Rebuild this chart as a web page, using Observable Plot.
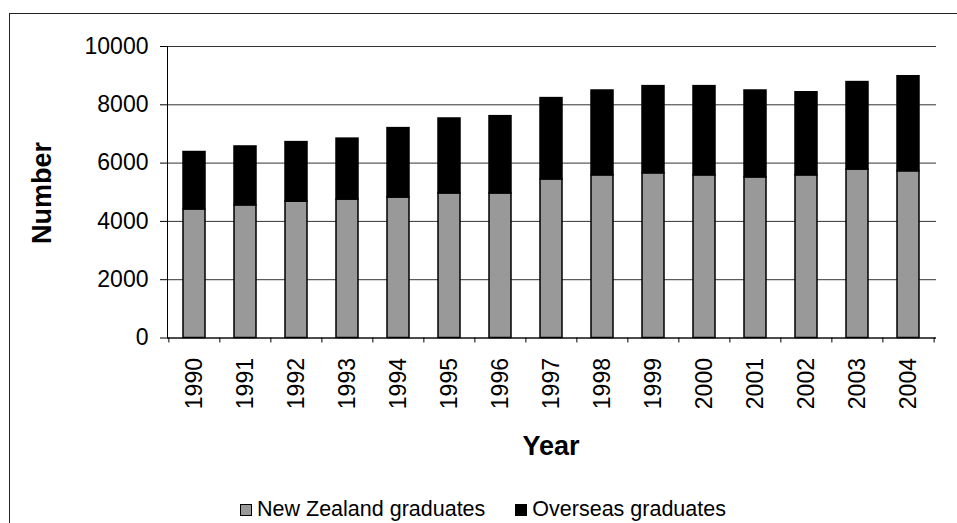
<!DOCTYPE html>
<html><head><meta charset="utf-8">
<script src="https://cdn.jsdelivr.net/npm/d3@7"></script>
<script src="https://cdn.jsdelivr.net/npm/@observablehq/plot@0.6"></script>
<style>
body{margin:0;background:#fff;font-family:"Liberation Sans",Arial,sans-serif;color:#000;}
#wrap{position:relative;width:957px;height:523px;overflow:hidden;background:#fff;}
#box{position:absolute;left:9px;top:13px;width:980px;height:540px;border:1.5px solid #222;box-sizing:border-box;}
#chart{position:absolute;left:0;top:0;}
#ylab{position:absolute;left:42px;top:193px;transform:translate(-50%,-50%) rotate(-90deg);font-weight:bold;font-size:27px;white-space:nowrap;}
#xlab{position:absolute;left:551px;top:446px;transform:translate(-50%,-50%);font-weight:bold;font-size:27px;}
#legend{position:absolute;top:497px;left:9px;width:948px;display:flex;justify-content:center;align-items:center;font-size:21.5px;}
.item{display:flex;align-items:center;margin:0 15px;}
.sw{width:10px;height:10px;border:1px solid #000;margin-right:5px;}
</style></head>
<body>
<div id="wrap">
  <div id="box"></div>
  <div id="chart"></div>
  <div id="ylab">Number</div>
  <div id="xlab">Year</div>
  <div id="legend"></div>
</div>
<script>
const years = ["1990","1991","1992","1993","1994","1995","1996","1997","1998","1999","2000","2001","2002","2003","2004"];
const seriesNames = ["New Zealand graduates", "Overseas graduates"];
const seriesColors = ["#999999", "#000000"];
const nzGraduates = [4410, 4550, 4680, 4750, 4820, 4960, 4960, 5440, 5580, 5650, 5580, 5510, 5580, 5780, 5720];
const overseasGraduates = [1970, 2020, 2040, 2090, 2380, 2570, 2650, 2790, 2910, 2990, 3060, 2980, 2850, 3000, 3260];
const yTicks = [0, 2000, 4000, 6000, 8000, 10000];

const rows = [];
years.forEach((y, i) => {
  rows.push({year: y, series: seriesNames[0], value: nzGraduates[i]});
  rows.push({year: y, series: seriesNames[1], value: overseasGraduates[i]});
});

const W = 957, mL = 167, mR = 21;
const step = (W - mL - mR) / years.length;
const fmt = d3.format("d");

const chart = Plot.plot({
  width: W,
  height: 470,
  marginLeft: mL,
  marginRight: mR,
  marginTop: 46,
  marginBottom: 132.5,
  style: {fontFamily: "'Liberation Sans', Arial, sans-serif", color: "#000", background: "transparent"},
  x: {type: "band", domain: years, paddingInner: 0.565, paddingOuter: 0.2825},
  y: {domain: [0, 10000]},
  color: {domain: seriesNames, range: seriesColors},
  marks: [
    Plot.gridY(yTicks, {stroke: "#000", strokeOpacity: 0.8, strokeWidth: 1}),
    Plot.barY(rows, Plot.stackY({order: seriesNames}, {x: "year", y: "value", z: "series", fill: "series", stroke: "#000", strokeWidth: 1.5})),
    Plot.ruleY([0], {stroke: "#000", strokeWidth: 1}),
    Plot.frame({anchor: "left", stroke: "#000", strokeWidth: 1}),
    Plot.axisY({ticks: yTicks, tickFormat: fmt, tickSize: 7, tickPadding: 12, fontSize: 23, label: null, stroke: "#000"}),
    Plot.axisX({tickSize: 0, tickRotate: -90, tickPadding: 20, fontSize: 23, label: null}),
    Plot.axisX({tickFormat: () => "", tickSize: 5, dx: -step / 2, label: null, stroke: "#000"}),
    Plot.axisX({ticks: [years[years.length - 1]], tickFormat: () => "", tickSize: 5, dx: step / 2, label: null, stroke: "#000"})
  ]
});
document.getElementById("chart").appendChild(chart);

const legend = document.getElementById("legend");
seriesNames.forEach((n, i) => {
  const it = document.createElement("div");
  it.className = "item";
  const sw = document.createElement("div");
  sw.className = "sw";
  sw.style.background = seriesColors[i];
  const tx = document.createElement("span");
  tx.textContent = n;
  it.appendChild(sw); it.appendChild(tx);
  legend.appendChild(it);
});
</script>
</body></html>
